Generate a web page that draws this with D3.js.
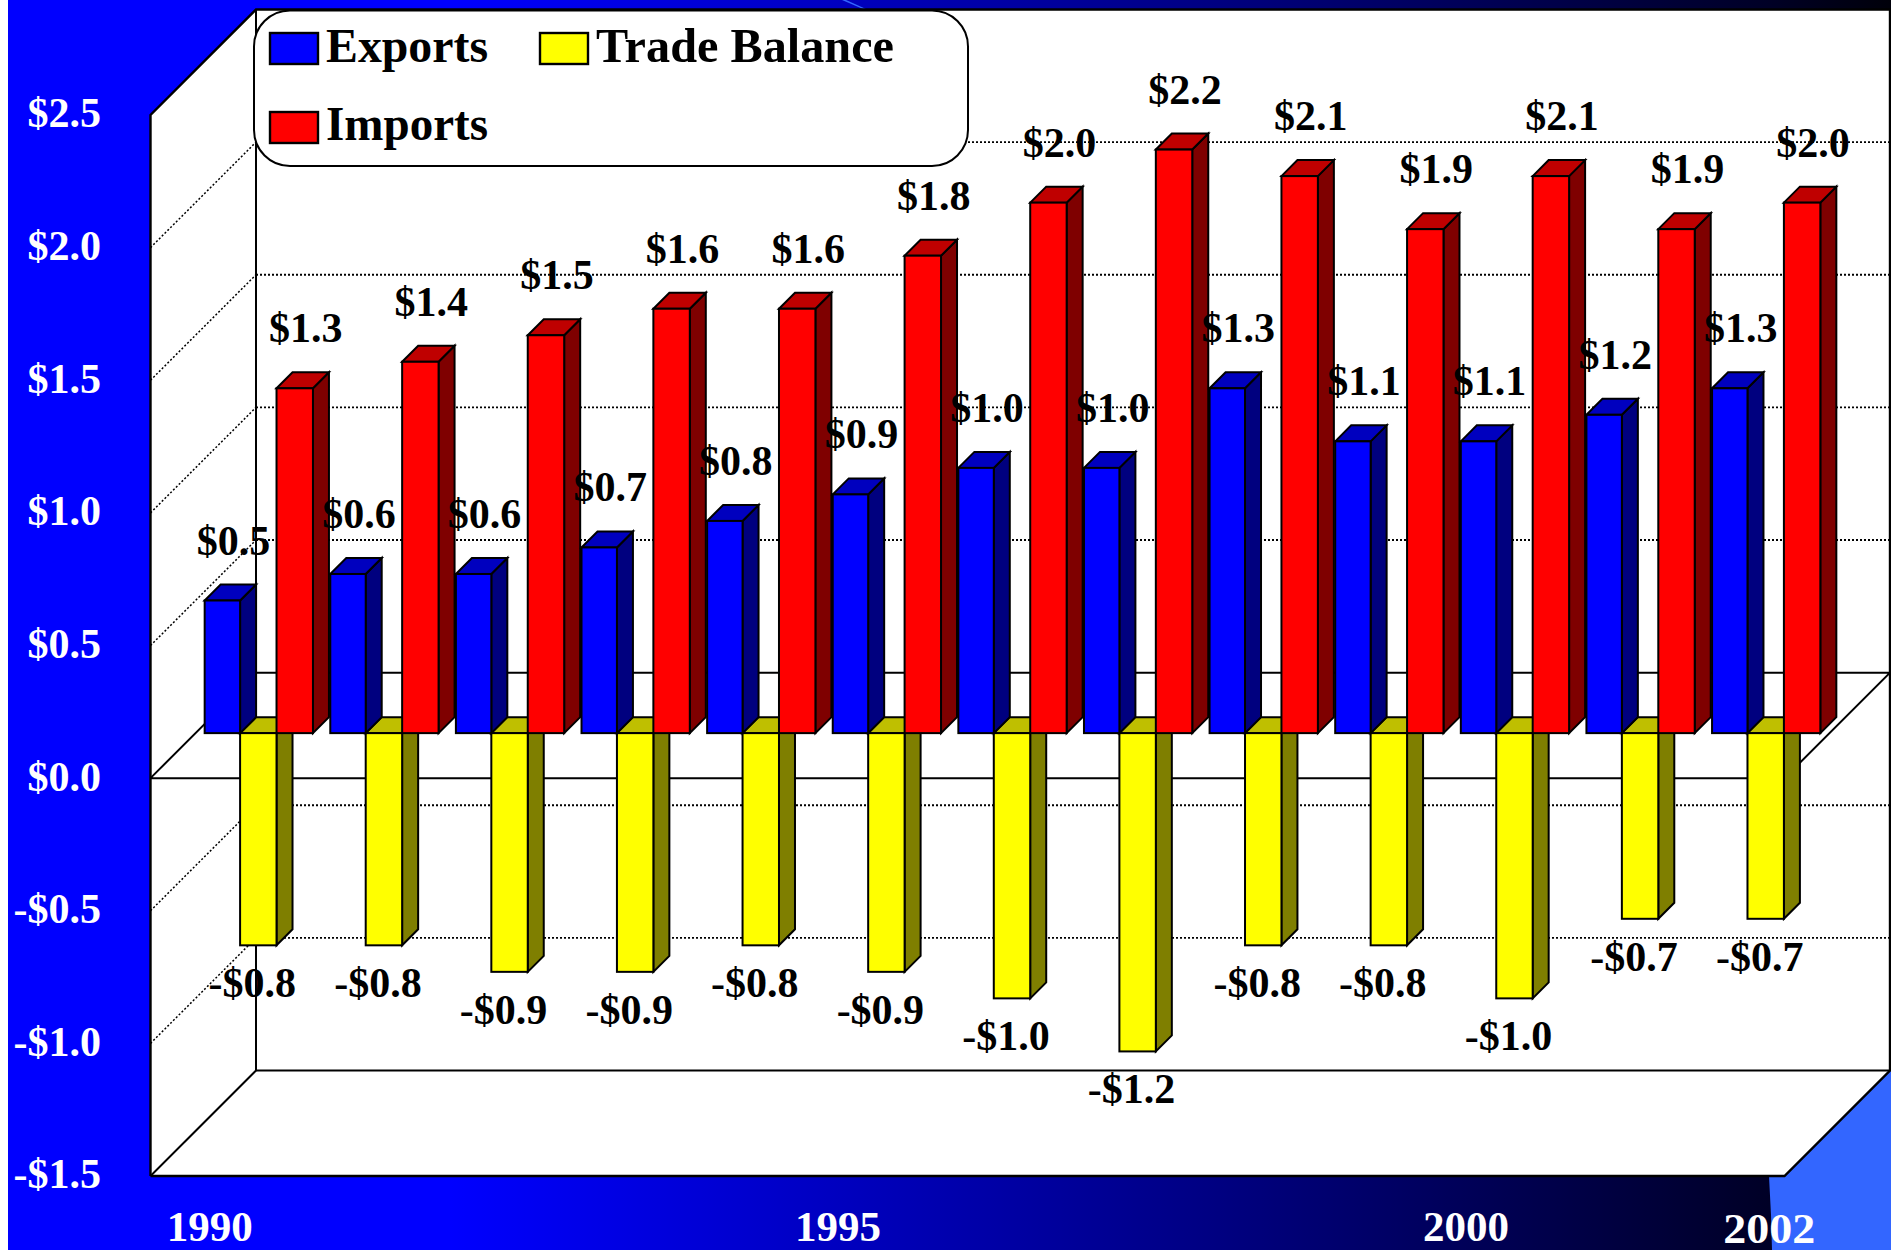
<!DOCTYPE html>
<html>
<head>
<meta charset="utf-8">
<script src="https://cdn.jsdelivr.net/npm/d3@7"></script>
<style>
html,body{margin:0;padding:0;background:#fff;overflow:hidden}
svg{display:block}
text{font-family:"Liberation Serif","Times New Roman",serif;font-weight:bold}
</style>
</head>
<body>
<svg id="c" width="1891" height="1250"></svg>
<script>
const years = [1990,1991,1992,1993,1994,1995,1996,1997,1998,1999,2000,2001,2002];
const exportsValues = [0.5,0.6,0.6,0.7,0.8,0.9,1.0,1.0,1.3,1.1,1.1,1.2,1.3];
const tradeBalance = [-0.8,-0.8,-0.9,-0.9,-0.8,-0.9,-1.0,-1.2,-0.8,-0.8,-1.0,-0.7,-0.7];
const importsValues = [1.3,1.4,1.5,1.6,1.6,1.8,2.0,2.2,2.1,1.9,2.1,1.9,2.0];
const yTicks = [-1.5,-1.0,-0.5,0,0.5,1.0,1.5,2.0,2.5];
const xTicks = [1990,1995,2000,2002];
const seriesNames = ["Exports","Trade Balance","Imports"];
const seriesColors = {
  "Exports":{front:"#0000ff",top:"#0000bf",side:"#00007f"},
  "Trade Balance":{front:"#ffff00",top:"#bfbf00",side:"#7f7f00"},
  "Imports":{front:"#ff0000",top:"#bf0000",side:"#7f0000"}
};
const seriesValues = {"Exports":exportsValues,"Trade Balance":tradeBalance,"Imports":importsValues};

const svg = d3.select("#c");
const defs = svg.append("defs");
const grad = defs.append("linearGradient").attr("id","bg").attr("gradientUnits","userSpaceOnUse")
  .attr("x1",0).attr("x2",1891).attr("y1",0).attr("y2",0);
[[450,"#0000ff"],[1000,"#0000a5"],[1770,"#000026"],[1891,"#00000a"]].forEach(s=>
  grad.append("stop").attr("offset",s[0]/1891).attr("stop-color",s[1]));

const y = d3.scaleLinear().domain([-1.5,2.5]).range([1176,115]);
const x = d3.scaleBand().domain(years).range([150.5,1783.5]).paddingInner(0.13).paddingOuter(0.065);
const xs = d3.scaleBand().domain(seriesNames).range([0,x.bandwidth()]);
const DEPTH = 105.5, BAR_POS = 45, BAR_DEPTH = 16;
const SERIES_NUDGE = {"Exports":1,"Trade Balance":0,"Imports":0};
const fL = x.range()[0], fR = x.range()[1]+1;
const poly = pts => pts.map(p=>p[0]+","+p[1]).join(" ");

// slide background
svg.append("rect").attr("x",8).attr("y",0).attr("width",1883).attr("height",1250).attr("fill","url(#bg)");
svg.append("polygon").attr("fill","#3366ff")
  .attr("points",poly([[1769,1176],[1771,1215],[1772,1250],[1891,1250],[1891,1060],[1780,1176]]));
svg.append("polygon").attr("fill","#3366ff").attr("points",poly([[842,0],[846,0],[866,9],[863,9]]));

// 3-D frame
const g = svg.append("g");
const line = (pts,sw,dash)=>g.append("polyline").attr("points",poly(pts)).attr("fill","none")
  .attr("stroke","#000").attr("stroke-width",sw||2).attr("stroke-dasharray",dash||null);
g.append("polygon").attr("fill","#fff").attr("points",poly([
  [fL,y(2.5)],[fL+DEPTH,y(2.5)-DEPTH],[fR+DEPTH,y(2.5)-DEPTH],[fR+DEPTH,y(-1.5)-DEPTH],[fR,y(-1.5)],[fL,y(-1.5)]
]));

// gridlines on back and left walls
yTicks.filter(v=>v!==0&&v!==2.5&&v!==-1.5).forEach(v=>{
  line([[fL+DEPTH,y(v)-DEPTH],[fR+DEPTH,y(v)-DEPTH]],1.8,"2 2");
  line([[fL,y(v)],[fL+DEPTH,y(v)-DEPTH]],1.5,"2 2");
});
// frame edges and zero plane
line([[fL,y(-1.5)],[fL,y(2.5)],[fL+DEPTH,y(2.5)-DEPTH],[fR+DEPTH,y(2.5)-DEPTH],[fR+DEPTH,y(-1.5)-DEPTH],[fR,y(-1.5)],[fL,y(-1.5)]],2.4);
line([[fL+DEPTH,y(2.5)-DEPTH],[fL+DEPTH,y(-1.5)-DEPTH],[fR+DEPTH,y(-1.5)-DEPTH]],2);
line([[fL,y(-1.5)],[fL+DEPTH,y(-1.5)-DEPTH]],2);
line([[fL,y(0)],[fL+DEPTH,y(0)-DEPTH],[fR+DEPTH,y(0)-DEPTH],[fR,y(0)],[fL,y(0)]],2);

// legend
const lg = svg.append("g");
lg.append("rect").attr("x",254).attr("y",10.5).attr("width",714).attr("height",155.5).attr("rx",36).attr("ry",36)
  .attr("fill","#fff").attr("stroke","#000").attr("stroke-width",2);
const legendPos = {"Exports":[270,33,326,62,162],"Trade Balance":[540,33,596,62,298],"Imports":[270,112,326,140,162]};
seriesNames.forEach(n=>{
  const p = legendPos[n];
  lg.append("rect").attr("x",p[0]).attr("y",p[1]).attr("width",48).attr("height",31)
    .attr("fill",seriesColors[n].front).attr("stroke","#000").attr("stroke-width",2.4);
  lg.append("text").attr("x",p[2]).attr("y",p[3]).attr("font-size",48).attr("fill","#000")
    .attr("textLength",p[4]).attr("lengthAdjust","spacingAndGlyphs").text(n);
});

// bars: draw yellow first, then blue, then red for each year
const bars = svg.append("g");
const labels = [];
years.forEach((yr,i)=>{
  ["Trade Balance","Exports","Imports"].forEach(n=>{
    const v = seriesValues[n][i], c = seriesColors[n];
    const x0 = x(yr)+xs(n)+BAR_POS+SERIES_NUDGE[n], x1 = x0+xs.bandwidth()-SERIES_NUDGE[n];
    const yz = y(0)-BAR_POS, yv = y(v)-BAR_POS, d = BAR_DEPTH;
    const topY = Math.min(yz,yv), botY = Math.max(yz,yv);
    const b = bars.append("g").attr("stroke","#000").attr("stroke-width",2).attr("stroke-linejoin","miter");
    b.append("polygon").attr("fill",c.side).attr("points",poly([[x1,topY],[x1+d,topY-d],[x1+d,botY-d],[x1,botY]]));
    b.append("polygon").attr("fill",c.top).attr("points",poly([[x0,topY],[x0+d,topY-d],[x1+d,topY-d],[x1,topY]]));
    b.append("rect").attr("x",x0).attr("y",topY).attr("width",x1-x0).attr("height",botY-topY).attr("fill",c.front);
    const fmt = (v<0?"-":"")+"$"+Math.abs(v).toFixed(1);
    labels.push(v>=0
      ? {t:fmt,x:(x0+x1+d)/2+3,y:topY-d-30}
      : {t:fmt,x:(x0+x1)/2-6,y:botY+52});
  });
});
svg.append("g").selectAll("text").data(labels).join("text")
  .attr("x",d=>d.x).attr("y",d=>d.y).attr("text-anchor","middle")
  .attr("font-size",42).attr("fill","#000").text(d=>d.t);

// axes
const yAxis = d3.axisLeft(y).tickValues(yTicks).tickSize(0).tickPadding(0)
  .tickFormat(v=>(v<0?"-":"")+"$"+Math.abs(v).toFixed(1));
const ya = svg.append("g").attr("transform","translate(101,-1.5)").call(yAxis);
const xAxis = d3.axisBottom(x).tickValues(xTicks).tickSize(0).tickPadding(0);
const xa = svg.append("g").attr("transform","translate(-3.5,1210)").call(xAxis);
[ya,xa].forEach(a=>{
  a.select(".domain").remove();
  a.selectAll("line").remove();
  a.attr("font-family",null).attr("font-size",null);
  a.selectAll("text").attr("fill","#fff").attr("font-size",42);
});
xa.selectAll("text").attr("font-size",43).attr("textLength",86).attr("lengthAdjust","spacingAndGlyphs");
xa.selectAll(".tick").filter(d=>d===2002).select("text")
  .attr("dx",52).attr("y",2).attr("textLength",92);
</script>
</body>
</html>
